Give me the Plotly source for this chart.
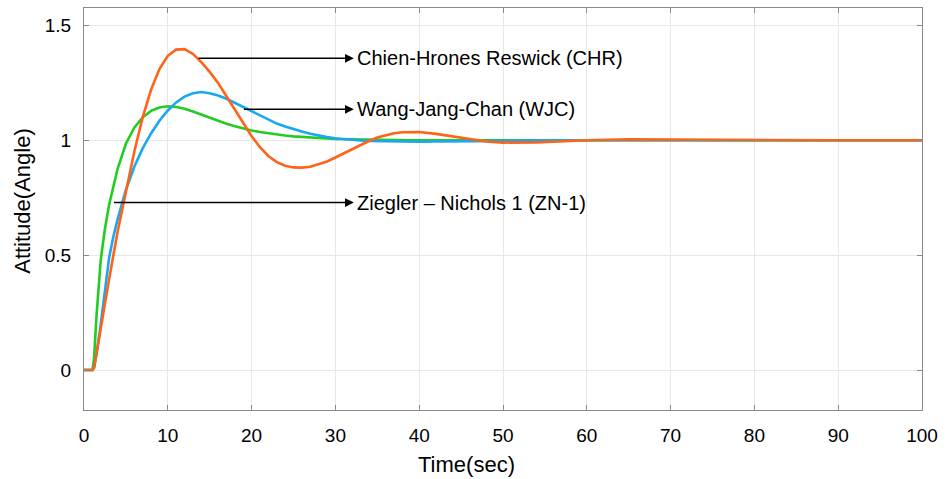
import plotly.graph_objects as go

time = [0, 1, 1.2, 1.5, 2, 2.5, 3, 3.5, 4, 5, 6, 7, 8, 9, 10, 11, 12, 13, 14, 15,
        16, 17, 18, 19, 20, 21, 22, 23, 24, 25, 26, 27, 28, 29, 30, 31, 32, 33, 34,
        35, 36, 37, 38, 39, 40, 42, 44, 46, 48, 50, 52, 54, 56, 58, 60, 65, 70, 80,
        90, 100]

zn1 = [0, 0, 0.05, 0.24, 0.48, 0.615, 0.72, 0.805, 0.875, 0.985, 1.055, 1.1, 1.128,
       1.143, 1.148, 1.145, 1.137, 1.125, 1.111, 1.097, 1.084, 1.072, 1.061, 1.051,
       1.043, 1.036, 1.03, 1.025, 1.021, 1.017, 1.014, 1.012, 1.01, 1.008, 1.006,
       1.005, 1.004, 1.003, 1.002, 1.001, 1.0, 1.0, 1.0, 1.0, 1.0, 1.0, 1.0, 1.0,
       1.0, 1.0, 1.0, 1.0, 1.0, 1.0, 1.0, 1.0, 1.0, 1.0, 1.0, 1.0]

wjc = [0, 0, 0.01, 0.07, 0.2, 0.35, 0.49, 0.58, 0.655, 0.785, 0.885, 0.965, 1.03,
       1.085, 1.13, 1.165, 1.19, 1.205, 1.21, 1.205, 1.195, 1.181, 1.163, 1.144,
       1.125, 1.108, 1.09, 1.073, 1.06, 1.048, 1.038, 1.029, 1.021, 1.014, 1.009,
       1.005, 1.002, 0.999, 0.997, 0.996, 0.995, 0.994, 0.994, 0.994, 0.994, 0.995,
       0.996, 0.997, 0.998, 0.999, 1.0, 1.0, 1.0, 1.0, 1.0, 1.0, 1.0, 1.0, 1.0, 1.0]

chr_ = [0, 0, 0.01, 0.07, 0.18, 0.29, 0.4, 0.5, 0.6, 0.78, 0.95, 1.1, 1.22, 1.31,
        1.368, 1.395, 1.397, 1.376, 1.34, 1.298, 1.25, 1.192, 1.132, 1.072, 1.018,
        0.97, 0.932, 0.905, 0.889, 0.882, 0.881, 0.885, 0.895, 0.908, 0.925, 0.943,
        0.962, 0.98, 0.997, 1.012, 1.023, 1.031, 1.035, 1.037, 1.036, 1.028, 1.016,
        1.004, 0.995, 0.99, 0.989, 0.991, 0.994, 0.998, 1.0, 1.004, 1.003, 1.0, 1.0, 1.0]

labels = ["Chien-Hrones Reswick (CHR)", "Wang-Jang-Chan (WJC)", "Ziegler – Nichols 1 (ZN-1)"]
# arrow tail (on curve) and head positions, in data units
arrow_tail_x = [13.5, 18.9, 3.4]
arrow_tail_y = [1.357, 1.135, 0.729]
arrow_head_x = [32.2, 32.2, 32.2]

xticks = [0, 10, 20, 30, 40, 50, 60, 70, 80, 90, 100]
yticks = [0, 0.5, 1, 1.5]
ytick_text = ["0", "0.5", "1", "1.5"]

FONT = "Liberation Sans, Arial, sans-serif"

fig = go.Figure()
fig.add_trace(go.Scatter(x=time, y=zn1, mode="lines", line=dict(color="#22CC22", width=2.6), name="ZN-1"))
fig.add_trace(go.Scatter(x=time, y=wjc, mode="lines", line=dict(color="#18A7F2", width=2.6), name="WJC"))
fig.add_trace(go.Scatter(x=time, y=chr_, mode="lines", line=dict(color="#FF6319", width=2.6), name="CHR"))

for lab, tx, ty, hx in zip(labels, arrow_tail_x, arrow_tail_y, arrow_head_x):
    fig.add_annotation(x=hx, y=ty, ax=tx, ay=ty, xref="x", yref="y", axref="x", ayref="y",
                       text="", showarrow=True, arrowhead=2, arrowsize=1.1, arrowwidth=1.6,
                       arrowcolor="black")
    fig.add_annotation(x=hx + 0.1, y=ty, xref="x", yref="y", text=lab, showarrow=False,
                       xanchor="left", yanchor="middle",
                       font=dict(family=FONT, size=20, color="black"))

# axis titles (placed as in the reference)
fig.add_annotation(x=0.457, y=-0.135, xref="paper", yref="paper", text="Time(sec)",
                   showarrow=False, xanchor="center", yanchor="middle",
                   font=dict(family=FONT, size=22, color="black"))
fig.add_annotation(x=-0.073, y=0.52, xref="paper", yref="paper", text="Attitude(Angle)",
                   showarrow=False, xanchor="center", yanchor="middle", textangle=-90,
                   font=dict(family=FONT, size=22, color="black"))

axis_common = dict(showline=True, linecolor="#8a8a8a", linewidth=1.2, mirror="allticks",
                   ticks="inside", ticklen=5, tickcolor="#8a8a8a", showgrid=True,
                   gridcolor="#e8e8e8", gridwidth=1, zeroline=False,
                   tickfont=dict(family=FONT, size=19, color="black"))

fig.update_xaxes(range=[0, 100], tickvals=xticks, ticklabelstandoff=8, **axis_common)
fig.update_yaxes(range=[-0.174, 1.576], tickvals=yticks, ticktext=ytick_text,
                 ticklabelstandoff=8, **axis_common)

fig.update_layout(width=948, height=479, margin=dict(l=84, r=26, t=8, b=69),
                  plot_bgcolor="white", paper_bgcolor="white", showlegend=False)

fig.write_html("out.html")
